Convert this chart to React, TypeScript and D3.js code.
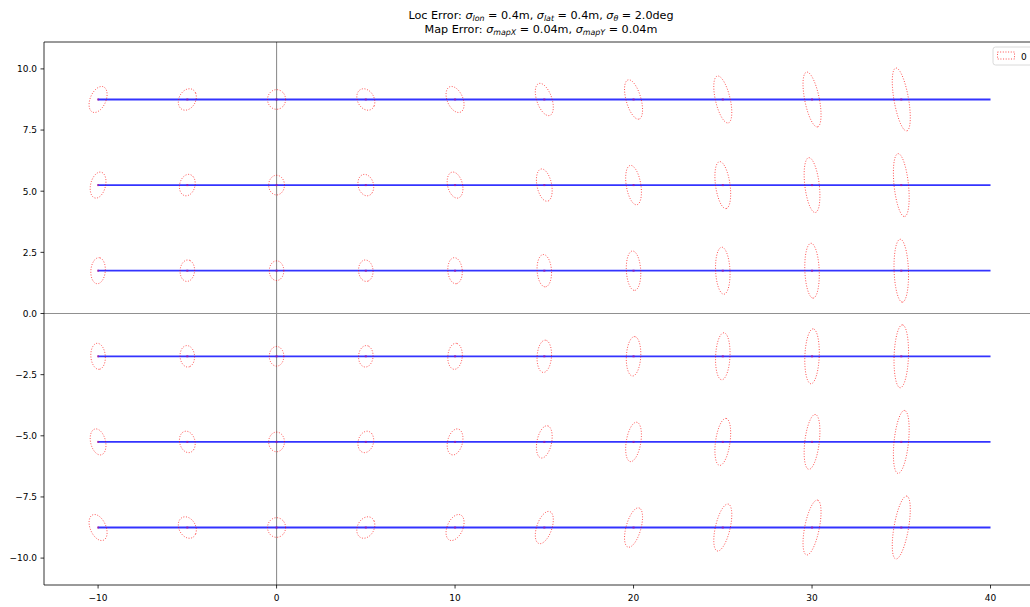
import React from "react";
import * as d3 from "d3";

// ---- data ----
const laneCenters = [8.75, 5.25, 1.75, -1.75, -5.25, -8.75];
const pointXs = [-10, -5, 0, 5, 10, 15, 20, 25, 30, 35];
const laneStartX = -10;
const laneEndX = 40;
// error parameters shown in the title
const sigmaLon = 0.4;
const sigmaLat = 0.4;
const sigmaThetaDeg = 2.0;
const sigmaMapX = 0.04;
const sigmaMapY = 0.04;
const xTicks = [-10, 0, 10, 20, 30, 40];
const yTicks = [10, 7.5, 5, 2.5, 0, -2.5, -5, -7.5, -10];
const legendLabels = ["0"];

const W = 1030;
const H = 607;
const left = 44;
const right = 1038;
const top = 42;
const bottom = 585;

const FONT = "DejaVu Sans, Verdana, sans-serif";

function fmtY(v: number) {
  const s = Math.abs(v).toFixed(1);
  return (v < 0 ? "\u2212" : "") + s;
}
function fmtX(v: number) {
  return (v < 0 ? "\u2212" : "") + Math.abs(v).toString();
}

function covariance(x: number, y: number) {
  const th = (sigmaThetaDeg * Math.PI) / 180;
  // heading error moves a point by dθ·(-y, x)
  const a = sigmaLon * sigmaLon + sigmaMapX * sigmaMapX + th * th * y * y;
  const d = sigmaLat * sigmaLat + sigmaMapY * sigmaMapY + th * th * x * x;
  const b = -th * th * x * y;
  return { a, b, d };
}

function ellipsePoints(cx: number, cy: number) {
  const { a, b, d } = covariance(cx, cy);
  const tr = (a + d) / 2;
  const disc = Math.sqrt(((a - d) / 2) ** 2 + b * b);
  const l1 = tr + disc;
  const l2 = tr - disc;
  const ang = 0.5 * Math.atan2(2 * b, a - d);
  const r1 = Math.sqrt(l1);
  const r2 = Math.sqrt(Math.max(l2, 0));
  const pts: [number, number][] = [];
  const n = 80;
  for (let i = 0; i < n; i++) {
    const t = (i / n) * Math.PI * 2;
    const u = r1 * Math.cos(t);
    const v = r2 * Math.sin(t);
    pts.push([
      cx + u * Math.cos(ang) - v * Math.sin(ang),
      cy + u * Math.sin(ang) + v * Math.cos(ang),
    ]);
  }
  return pts;
}

export default function App() {
  const xScale = d3.scaleLinear().domain([-13.03, 42.66]).range([left, right]);
  const yScale = d3.scaleLinear().domain([-11.1, 11.1]).range([bottom, top]);
  const line = d3
    .line<[number, number]>()
    .x((p) => xScale(p[0]))
    .y((p) => yScale(p[1]))
    .curve(d3.curveLinearClosed);

  return (
    <svg
      width={W}
      height={H}
      style={{ position: "absolute", left: 0, top: 0, background: "#fff" }}
      fontFamily={FONT}
    >
      <defs>
        <clipPath id="plotclip">
          <rect x={left} y={top} width={right - left} height={bottom - top} />
        </clipPath>
      </defs>
      <rect x={0} y={0} width={W} height={H} fill="#fff" />

      {/* title */}
      <text x={541} y={19} textAnchor="middle" fontSize={11.2} fill="#000">
        <tspan>Loc Error: </tspan>
        <tspan fontStyle="italic">σ</tspan>
        <tspan fontStyle="italic" fontSize={7.9} dy={2}>lon</tspan>
        <tspan dy={-2}> = 0.4m, </tspan>
        <tspan fontStyle="italic">σ</tspan>
        <tspan fontStyle="italic" fontSize={7.9} dy={2}>lat</tspan>
        <tspan dy={-2}> = 0.4m, </tspan>
        <tspan fontStyle="italic">σ</tspan>
        <tspan fontStyle="italic" fontSize={7.9} dy={2}>θ</tspan>
        <tspan dy={-2}> = 2.0deg</tspan>
      </text>
      <text x={541} y={33} textAnchor="middle" fontSize={11.2} fill="#000">
        <tspan>Map Error: </tspan>
        <tspan fontStyle="italic">σ</tspan>
        <tspan fontStyle="italic" fontSize={7.9} dy={2}>mapX</tspan>
        <tspan dy={-2}> = 0.04m, </tspan>
        <tspan fontStyle="italic">σ</tspan>
        <tspan fontStyle="italic" fontSize={7.9} dy={2}>mapY</tspan>
        <tspan dy={-2}> = 0.04m</tspan>
      </text>

      <g clipPath="url(#plotclip)">
        {/* zero axes */}
        <line x1={xScale(0)} x2={xScale(0)} y1={top} y2={bottom} stroke="#909090" strokeWidth={1.1} />
        <line x1={left} x2={right} y1={yScale(0)} y2={yScale(0)} stroke="#909090" strokeWidth={1.1} />

        {/* lanes */}
        {laneCenters.map((ly, i) => (
          <line
            key={"lane" + i}
            x1={xScale(laneStartX)}
            x2={xScale(laneEndX)}
            y1={yScale(ly)}
            y2={yScale(ly)}
            stroke="#0000ff"
            strokeOpacity={0.8}
            strokeWidth={1.8}
          />
        ))}

        {/* ellipses */}
        {laneCenters.map((ly, i) =>
          pointXs.map((px, j) => (
            <g key={"e" + i + "-" + j}>
              <path
                d={line(ellipsePoints(px, ly)) || ""}
                fill="none"
                stroke="#ff0000"
                strokeOpacity={0.7}
                strokeWidth={1}
                strokeDasharray="1,1.65"
              />
              <rect
                x={xScale(px) - 1}
                y={yScale(ly) - 1}
                width={2}
                height={2}
                fill="#9a1aa8"
                fillOpacity={0.8}
              />
            </g>
          ))
        )}
      </g>

      {/* spines */}
      <line x1={left} x2={left} y1={top} y2={bottom} stroke="#000" strokeWidth={0.8} />
      <line x1={left} x2={right} y1={top} y2={top} stroke="#000" strokeWidth={0.8} />
      <line x1={left} x2={right} y1={bottom} y2={bottom} stroke="#000" strokeWidth={0.8} />

      {/* y ticks */}
      {yTicks.map((t) => (
        <g key={"yt" + t}>
          <line x1={left - 3.5} x2={left} y1={yScale(t)} y2={yScale(t)} stroke="#000" strokeWidth={0.8} />
          <text x={left - 7} y={yScale(t) + 3.3} textAnchor="end" fontSize={9} fill="#000">
            {fmtY(t)}
          </text>
        </g>
      ))}

      {/* x ticks */}
      {xTicks.map((t) => (
        <g key={"xt" + t}>
          <line x1={xScale(t)} x2={xScale(t)} y1={bottom} y2={bottom + 3.5} stroke="#000" strokeWidth={0.8} />
          <text x={xScale(t)} y={bottom + 15.5} textAnchor="middle" fontSize={9} fill="#000">
            {fmtX(t)}
          </text>
        </g>
      ))}

      {/* legend */}
      <g>
        <rect
          x={993}
          y={47}
          width={60}
          height={18}
          rx={2.5}
          fill="#fff"
          fillOpacity={0.8}
          stroke="#d0d0d0"
          strokeWidth={0.8}
        />
        <rect
          x={997.5}
          y={52}
          width={17}
          height={7}
          fill="none"
          stroke="#ff0000"
          strokeOpacity={0.7}
          strokeWidth={1}
          strokeDasharray="1,1.65"
        />
        {legendLabels.map((l, i) => (
          <text key={"lg" + i} x={1021} y={59.5} fontSize={9} fill="#000">
            {l}
          </text>
        ))}
      </g>
    </svg>
  );
}
